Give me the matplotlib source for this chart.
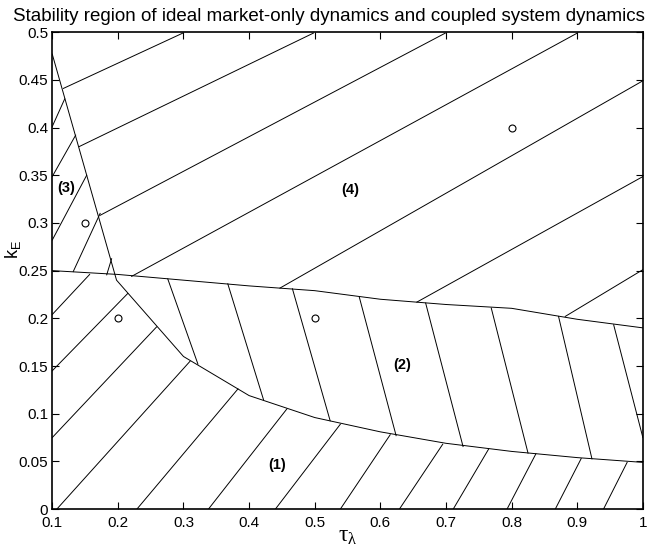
import numpy as np
import matplotlib
matplotlib.use("Agg")
import matplotlib.pyplot as plt

plt.rcParams['font.family'] = ['Liberation Sans', 'DejaVu Sans']
plt.rcParams['mathtext.fontset'] = 'custom'
plt.rcParams['mathtext.rm'] = 'Liberation Serif'
plt.rcParams['mathtext.it'] = 'Liberation Serif:italic'
plt.rcParams['mathtext.sf'] = 'Liberation Sans'

# boundary of the market-only stability region
tau_b = [0.1, 0.198, 0.3, 0.4, 0.5, 0.6, 0.7, 0.8, 0.9, 1.0]
kE_b = [0.477, 0.240, 0.160, 0.119, 0.096, 0.081, 0.069, 0.0605, 0.054, 0.049]

# boundary of the coupled system stability region
tau_a = [0.1, 0.2, 0.3, 0.4, 0.5, 0.6, 0.7, 0.8, 0.9, 1.0]
kE_a = [0.250, 0.246, 0.240, 0.234, 0.229, 0.220, 0.2145, 0.2105, 0.199, 0.190]

# hatch segments per region: (tau0, kE0, tau1, kE1)
hatch_1 = [
    (0.100, 0.204, 0.157, 0.246),
    (0.100, 0.145, 0.215, 0.226),
    (0.100, 0.075, 0.259, 0.191),
    (0.107, 0.000, 0.310, 0.155),
    (0.229, 0.000, 0.383, 0.126),
    (0.338, 0.000, 0.4575, 0.105),
    (0.440, 0.000, 0.539, 0.089),
    (0.539, 0.000, 0.615, 0.078),
    (0.629, 0.000, 0.695, 0.068),
    (0.711, 0.000, 0.765, 0.063),
    (0.793, 0.000, 0.837, 0.058),
    (0.8665, 0.000, 0.906, 0.053),
    (0.940, 0.000, 0.976, 0.049),
]
hatch_2 = [
    (0.276, 0.2414, 0.322, 0.152),
    (0.3675, 0.2362, 0.422, 0.1146),
    (0.466, 0.231, 0.5235, 0.0926),
    (0.568, 0.222, 0.624, 0.077),
    (0.669, 0.216, 0.726, 0.0656),
    (0.769, 0.2107, 0.825, 0.0587),
    (0.8715, 0.202, 0.9224, 0.0527),
    (0.9555, 0.1932, 1.0, 0.075),
]
hatch_3 = [
    (0.100, 0.401, 0.119, 0.430),
    (0.100, 0.3486, 0.1357, 0.392),
    (0.100, 0.282, 0.1525, 0.350),
    (0.132, 0.249, 0.173, 0.310),
    (0.183, 0.2456, 0.1905, 0.2625),
]
hatch_4 = [
    (0.117, 0.441, 0.299, 0.499),
    (0.141, 0.380, 0.498, 0.499),
    (0.173, 0.308, 0.699, 0.499),
    (0.221, 0.244, 0.900, 0.499),
    (0.447, 0.2317, 1.0, 0.449),
    (0.6556, 0.217, 1.0, 0.3486),
    (0.8817, 0.202, 1.0, 0.251),
]

# sample points
pts_tau = [0.15, 0.2, 0.5, 0.8]
pts_kE = [0.30, 0.20, 0.20, 0.40]

labels = ['(1)', '(2)', '(3)', '(4)']
label_tau = [0.442, 0.634, 0.122, 0.554]
label_kE = [0.046, 0.151, 0.337, 0.335]

fig = plt.figure(figsize=(6.57, 5.54), dpi=100)
ax = fig.add_axes([0.0795, 0.081, 0.899, 0.861])

lw = 0.7
ax.plot(tau_b, kE_b, color='k', lw=lw)
ax.plot(tau_a, kE_a, color='k', lw=lw)
for seg in hatch_1 + hatch_2 + hatch_3 + hatch_4:
    ax.plot([seg[0], seg[2]], [seg[1], seg[3]], color='k', lw=lw)

ax.plot(pts_tau, pts_kE, 'o', mfc='none', mec='k', ms=5, mew=0.8)

for s, x, y in zip(labels, label_tau, label_kE):
    ax.text(x, y, s, fontsize=10.5, fontweight='bold', ha='center', va='center')

ax.set_xlim(0.1, 1)
ax.set_ylim(0, 0.5)
ax.set_xticks(np.arange(0.1, 1.01, 0.1))
ax.set_xticklabels(['0.1', '0.2', '0.3', '0.4', '0.5', '0.6', '0.7', '0.8', '0.9', '1'])
ax.set_yticks(np.arange(0, 0.51, 0.05))
ax.set_yticklabels(['0', '0.05', '0.1', '0.15', '0.2', '0.25', '0.3', '0.35', '0.4', '0.45', '0.5'])
ax.tick_params(direction='in', top=True, right=True, length=5, width=0.8,
               labelsize=11, pad=3)
ax.tick_params(axis='x', pad=5)
for sp in ax.spines.values():
    sp.set_linewidth(1.2)

ax.set_xlabel('$\\mathrm{\u03c4}_{\\mathrm{\u03bb}}$', fontsize=17, labelpad=-4)
ax.set_ylabel(r'$\mathsf{k_E}$', fontsize=13, va='center')
ax.yaxis.set_label_coords(-0.066, 0.545)

fig.text(0.5, 0.971, 'Stability region of ideal market-only dynamics and coupled system dynamics',
         fontsize=13.5, ha='center', va='center')

fig.savefig('out.png', dpi=100)
